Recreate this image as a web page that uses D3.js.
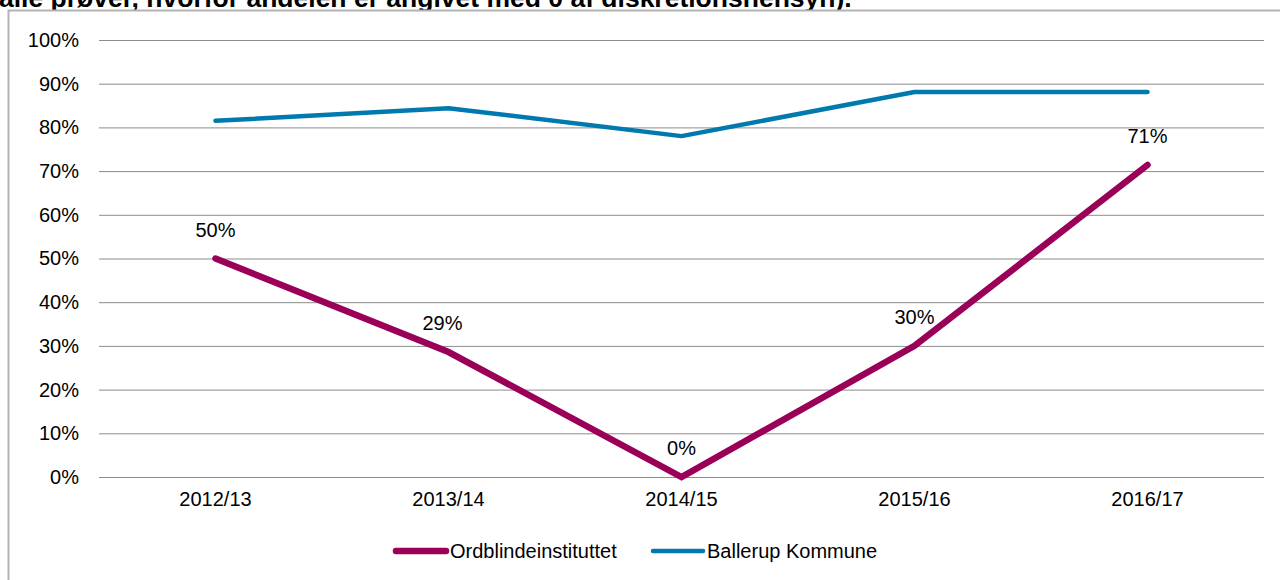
<!DOCTYPE html>
<html>
<head>
<meta charset="utf-8">
<script src="https://cdn.jsdelivr.net/npm/d3@7"></script>
<style>
  body { margin: 0; background: #fff; }
  svg { display: block; font-family: "Liberation Sans", Arial, sans-serif; }
</style>
</head>
<body>
<div id="chart"></div>
<script>
// data
const years = ["2012/13", "2013/14", "2014/15", "2015/16", "2016/17"];
const ordblinde = [50, 28.6, 0, 30, 71.4];
const ballerup = [81.5, 84.4, 78, 88.1, 88.1];
const yTicks = [0, 10, 20, 30, 40, 50, 60, 70, 80, 90, 100];
const seriesNames = ["Ordblindeinstituttet", "Ballerup Kommune"];
const colors = ["#9b0058", "#0079ae"];

const W = 1280, H = 580;
const margin = {top: 40, left: 99, right: 16, bottom: 103};
const fs = 20;

const svg = d3.select("#chart").append("svg")
    .attr("width", W)
    .attr("height", H);

// cut-off heading above the chart box
svg.append("text")
    .attr("x", -1)
    .attr("y", 7)
    .attr("font-size", 26.5)
    .attr("font-weight", "bold")
    .attr("fill", "#000")
    .text("alle prøver, hvorfor andelen er angivet med 0 af diskretionshensyn).");

// chart box
svg.append("rect")
    .attr("x", 8.5).attr("y", 10.5)
    .attr("width", W + 10).attr("height", H + 10)
    .attr("fill", "#fff")
    .attr("stroke", "#b3b3b3")
    .attr("stroke-width", 2);

const x = d3.scaleBand()
    .domain(years)
    .range([margin.left, W - margin.right]);

const y = d3.scaleLinear()
    .domain([0, 100])
    .range([H - margin.bottom, margin.top]);

// gridlines
const yAxis = svg.append("g")
    .attr("transform", `translate(${margin.left},0)`)
    .call(d3.axisLeft(y).tickValues(yTicks)
      .tickSize(-(W - margin.left - margin.right))
      .tickPadding(20)
      .tickFormat(d => d + "%"));
yAxis.select(".domain").remove();
yAxis.selectAll(".tick line").attr("stroke", "#8c8c8c").attr("stroke-width", 1);
yAxis.selectAll(".tick text").attr("font-size", fs).attr("fill", "#000")
    .attr("font-family", "Liberation Sans, Arial, sans-serif");

// x axis labels
const xAxis = svg.append("g")
    .attr("transform", `translate(0,${H - margin.bottom})`)
    .call(d3.axisBottom(x).tickSize(0).tickPadding(15));
xAxis.select(".domain").remove();
xAxis.selectAll(".tick text").attr("font-size", fs).attr("fill", "#000")
    .attr("font-family", "Liberation Sans, Arial, sans-serif");

const cx = d => x(d) + x.bandwidth() / 2;

const line = d3.line()
    .x((d, i) => cx(years[i]))
    .y(d => y(d));

svg.append("path")
    .datum(ballerup)
    .attr("d", line)
    .attr("fill", "none")
    .attr("stroke", colors[1])
    .attr("stroke-width", 4.5)
    .attr("stroke-linecap", "round")
    .attr("stroke-linejoin", "round");

svg.append("path")
    .datum(ordblinde)
    .attr("d", line)
    .attr("fill", "none")
    .attr("stroke", colors[0])
    .attr("stroke-width", 6.5)
    .attr("stroke-linecap", "round")
    .attr("stroke-linejoin", "miter");

// data labels for Ordblindeinstituttet
const labelDx = [0, -6, 0, 0, 0];
svg.selectAll(".lbl")
  .data(ordblinde)
  .enter().append("text")
    .attr("class", "lbl")
    .attr("x", (d, i) => cx(years[i]) + labelDx[i])
    .attr("y", d => y(d) - 22)
    .attr("text-anchor", "middle")
    .attr("font-size", fs)
    .attr("fill", "#000")
    .text(d => Math.round(d) + "%");

// legend
const legendX = [396, 653];
const legendTextX = [450, 707];
const legendW = [6.5, 4.5];
const lg = svg.append("g");
seriesNames.forEach((name, i) => {
  lg.append("line")
    .attr("x1", legendX[i]).attr("x2", legendTextX[i] - 4)
    .attr("y1", 551).attr("y2", 551)
    .attr("stroke", colors[i])
    .attr("stroke-width", legendW[i])
    .attr("stroke-linecap", "round");
  lg.append("text")
    .attr("x", legendTextX[i])
    .attr("y", 558)
    .attr("font-size", fs)
    .attr("fill", "#000")
    .text(name);
});
</script>
</body>
</html>
